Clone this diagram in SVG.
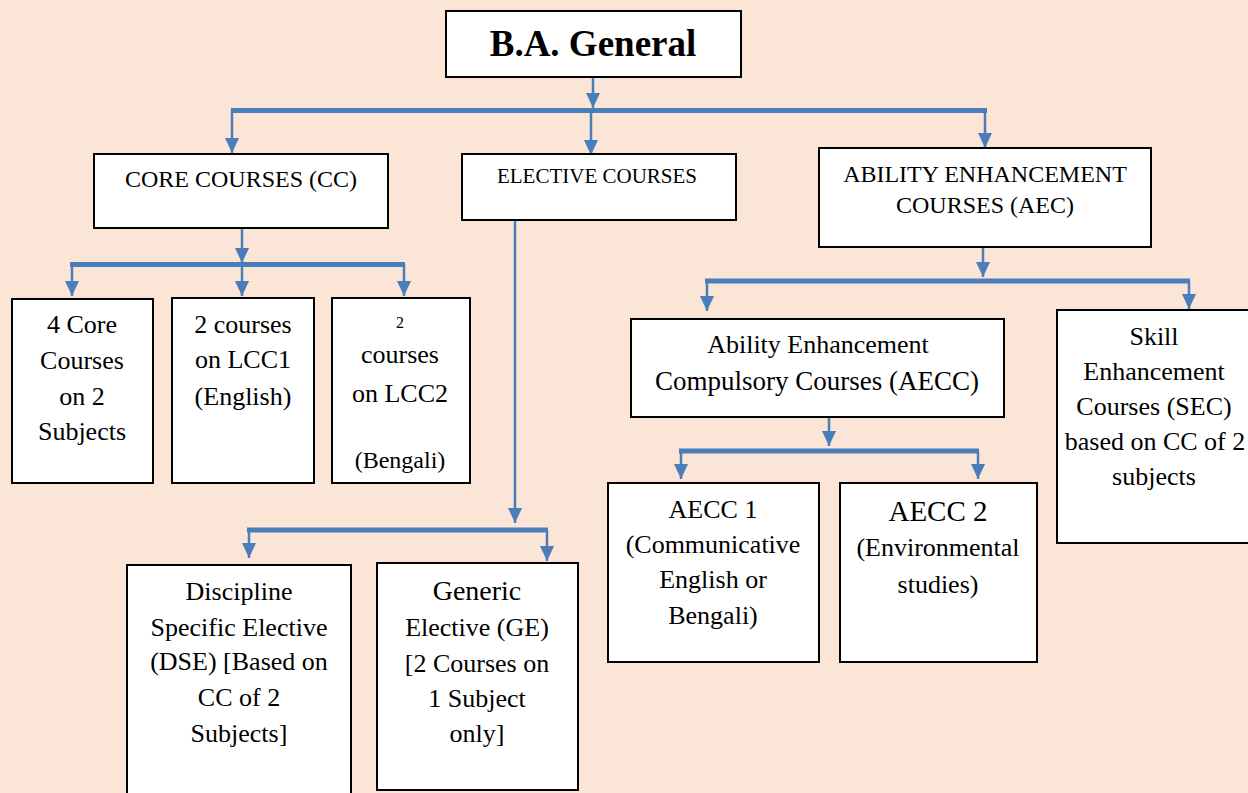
<svg xmlns="http://www.w3.org/2000/svg" width="1248" height="793" viewBox="0 0 1248 793">
<defs>
<marker id="ah" markerUnits="userSpaceOnUse" markerWidth="15" markerHeight="15" refX="15" refY="7" orient="auto" viewBox="0 0 15 14">
<path d="M0,0 L15,7 L0,14 z" fill="#4A7EBB"/>
</marker>
</defs>
<style>
.box{fill:#ffffff;stroke:#000000;stroke-width:2}
.t{font-family:"Liberation Serif","Times New Roman",serif;font-size:26px;fill:#000000;text-anchor:middle}
.c{stroke:#4A7EBB;stroke-width:2.5;fill:none}
.bar{stroke:#4A7EBB;stroke-width:5;fill:none}
.a{marker-end:url(#ah)}
</style>
<rect x="0" y="0" width="1248" height="793" fill="#FBE5D6"/>

<g id="connectors">
<line class="c a" x1="593" y1="77" x2="593" y2="108"/>
<line class="bar" x1="231" y1="110.5" x2="987" y2="110.5"/>
<line class="c a" x1="232" y1="110" x2="232" y2="153"/>
<line class="c a" x1="591" y1="110" x2="591" y2="155"/>
<line class="c a" x1="985" y1="110" x2="985" y2="148"/>

<line class="c a" x1="242" y1="228" x2="242" y2="263"/>
<line class="bar" x1="70" y1="264.5" x2="405" y2="264.5"/>
<line class="c a" x1="72" y1="264" x2="72" y2="296"/>
<line class="c a" x1="242" y1="264" x2="242" y2="296"/>
<line class="c a" x1="404" y1="264" x2="404" y2="296"/>

<line class="c a" x1="515" y1="220" x2="515" y2="523"/>
<line class="bar" x1="247" y1="530" x2="548" y2="530"/>
<line class="c a" x1="249" y1="530" x2="249" y2="558"/>
<line class="c a" x1="547" y1="530" x2="547" y2="561"/>

<line class="c a" x1="983" y1="247" x2="983" y2="277"/>
<line class="bar" x1="705" y1="281" x2="1190" y2="281"/>
<line class="c a" x1="707" y1="281" x2="707" y2="311"/>
<line class="c a" x1="1189" y1="281" x2="1189" y2="309"/>

<line class="c a" x1="829" y1="417" x2="829" y2="446"/>
<line class="bar" x1="679" y1="451" x2="979" y2="451"/>
<line class="c a" x1="681" y1="451" x2="681" y2="479"/>
<line class="c a" x1="978" y1="451" x2="978" y2="479"/>
</g>

<g id="ba-general">
<rect class="box" x="446" y="11" width="295" height="66"/>
<text class="t" x="593" y="56" style="font-size:37px;font-weight:bold">B.A. General</text>
</g>

<g id="core-courses">
<rect class="box" x="94" y="154" width="294" height="74"/>
<text class="t" x="241" y="187" style="font-size:24px">CORE COURSES (CC)</text>
</g>

<g id="elective-courses">
<rect class="box" x="462" y="154" width="274" height="66"/>
<text class="t" x="597" y="183" style="font-size:21px">ELECTIVE COURSES</text>
</g>

<g id="aec">
<rect class="box" x="819" y="148" width="332" height="99"/>
<text class="t" x="985" y="182" style="font-size:24px">ABILITY ENHANCEMENT</text>
<text class="t" x="985" y="213" style="font-size:24px">COURSES (AEC)</text>
</g>

<g id="core4">
<rect class="box" x="12" y="299" width="141" height="184"/>
<text class="t" x="82" y="333">4 Core</text>
<text class="t" x="82" y="369">Courses</text>
<text class="t" x="82" y="405">on 2</text>
<text class="t" x="82" y="440">Subjects</text>
</g>

<g id="lcc1">
<rect class="box" x="172" y="298" width="142" height="185"/>
<text class="t" x="243" y="333">2 courses</text>
<text class="t" x="243" y="368">on LCC1</text>
<text class="t" x="243" y="405">(English)</text>
</g>

<g id="lcc2">
<rect class="box" x="332" y="298" width="138" height="185"/>
<text class="t" x="400" y="328" style="font-size:16px">2</text>
<text class="t" x="400" y="363">courses</text>
<text class="t" x="400" y="402">on LCC2</text>
<text class="t" x="400" y="468" style="font-size:24px">(Bengali)</text>
</g>

<g id="dse">
<rect class="box" x="127" y="565" width="224" height="240"/>
<text class="t" x="239" y="600">Discipline</text>
<text class="t" x="239" y="636">Specific Elective</text>
<text class="t" x="239" y="670">(DSE) [Based on</text>
<text class="t" x="239" y="706">CC of 2</text>
<text class="t" x="239" y="742">Subjects]</text>
</g>

<g id="ge">
<rect class="box" x="377" y="563" width="201" height="227"/>
<text class="t" x="477" y="600" style="font-size:28px">Generic</text>
<text class="t" x="477" y="636">Elective (GE)</text>
<text class="t" x="477" y="672">[2 Courses on</text>
<text class="t" x="477" y="707">1 Subject</text>
<text class="t" x="477" y="742">only]</text>
</g>

<g id="aecc">
<rect class="box" x="631" y="319" width="373" height="98"/>
<text class="t" x="818" y="353">Ability Enhancement</text>
<text class="t" x="817" y="390" style="font-size:27px">Compulsory Courses (AECC)</text>
</g>

<g id="sec">
<rect class="box" x="1057" y="310" width="200" height="233"/>
<text class="t" x="1154" y="345">Skill</text>
<text class="t" x="1154" y="380">Enhancement</text>
<text class="t" x="1154" y="415">Courses (SEC)</text>
<text class="t" x="1155" y="450">based on CC of 2</text>
<text class="t" x="1154" y="485">subjects</text>
</g>

<g id="aecc1">
<rect class="box" x="608" y="483" width="211" height="179"/>
<text class="t" x="713" y="518">AECC 1</text>
<text class="t" x="713" y="553">(Communicative</text>
<text class="t" x="713" y="588">English or</text>
<text class="t" x="713" y="624">Bengali)</text>
</g>

<g id="aecc2">
<rect class="box" x="840" y="483" width="197" height="179"/>
<text class="t" x="938" y="521" style="font-size:29px">AECC 2</text>
<text class="t" x="938" y="556">(Environmental</text>
<text class="t" x="938" y="593">studies)</text>
</g>
</svg>
